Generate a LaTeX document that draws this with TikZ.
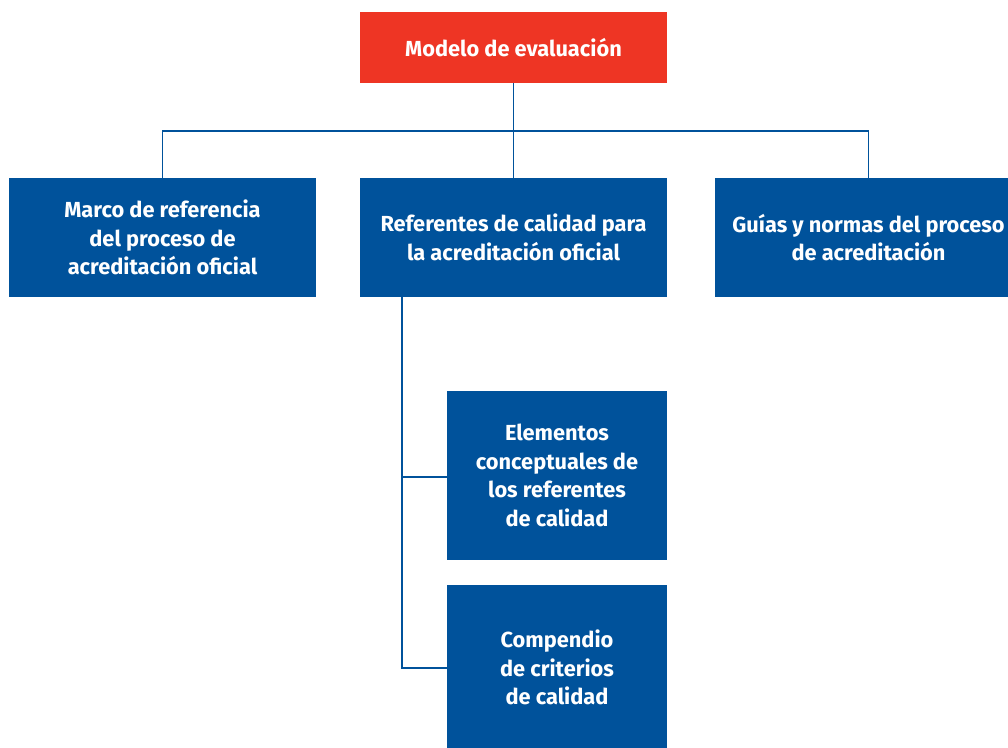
\documentclass[tikz,border=0pt]{standalone}
\usepackage{fontspec}
\setmainfont{Fira Sans}
\usepackage{tikz}
\usepackage{color}

\begin{document}
\begin{tikzpicture}[
  box/.style={shape=rectangle,fill=cbox,text=white,inner sep=0pt,align=center,
    font=\fontsize{21.8}{28.8}\selectfont\bfseries},
  link/.style={draw=clink,line width=0.05cm},
]
\definecolor{ctop}{rgb}{0.933,0.208,0.141}
\definecolor{cbox}{rgb}{0.0,0.322,0.608}
\definecolor{clink}{rgb}{0.0,0.322,0.608}
%
\useasboundingbox (0cm,0cm) rectangle (35.4271cm,-26.2891cm);
\begin{scope}
\clip (0cm,0cm) rectangle (35.4271cm,-26.2891cm);
%
\node[box,fill=ctop,minimum width=10.7898cm,minimum height=2.4954cm] (modelo) at (18.0474cm,-1.6694cm) {Modelo de evaluación};
\node[box,minimum width=10.7898cm,minimum height=4.1824cm] (marco) at (5.7112cm,-8.3471cm) {Marco de referencia\\del proceso de\\acreditación oficial};
\node[box,minimum width=10.7898cm,minimum height=4.1824cm] (referentes) at (18.0474cm,-8.3471cm) {Referentes de calidad para\\la acreditación oficial};
\node[box,minimum width=10.7898cm,minimum height=4.1824cm] (guias) at (30.5242cm,-8.3471cm) {Guías y normas del proceso\\de acreditación};
\node[box,minimum width=7.7321cm,minimum height=5.9397cm] (elementos) at (19.5763cm,-16.7119cm) {Elementos\\conceptuales de\\los referentes\\de calidad};
\node[box,minimum width=7.7321cm,minimum height=5.7991cm] (compendio) at (19.5763cm,-23.4599cm) {Compendio\\de criterios\\de calidad};
%
\coordinate (j0) at (18.0474cm,-4.6041cm);
\coordinate (j1) at (14.1287cm,-16.7646cm);
\coordinate (j2) at (14.1287cm,-23.4775cm);
%
\draw[link] (modelo.south) -- (j0);
\draw[link] (j0) -- (referentes.north);
\draw[link] (marco.north) |- (j0) -| (guias.north);
\draw[link] (referentes.south -| j1) -- (j2) -- (j2 -| compendio.west);
\draw[link] (j1) -- (j1 -| elementos.west);
\end{scope}
%
\end{tikzpicture}
\end{document}
